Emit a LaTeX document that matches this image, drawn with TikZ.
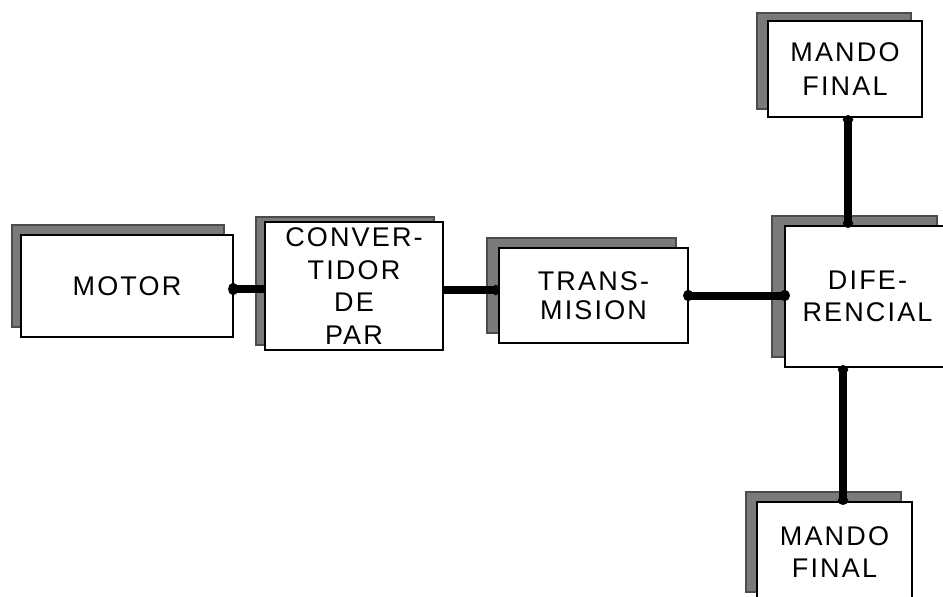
\documentclass[tikz,border=0pt]{standalone}
\usepackage{fontspec}
\setmainfont{Liberation Sans}
\usetikzlibrary{arrows.meta}
\newfontfamily\lblfont[LetterSpace=8]{Liberation Sans}
\tikzset{
  blk/.style={draw=black, line width=2.4pt, fill=white, inner sep=0pt,
    align=center, font=\lblfont\fontsize{27}{32}\selectfont},
  shad/.style 2 args={preaction={draw=black!70, line width=1.2pt, fill=black!52,
    transform canvas={shift={(#1,#2)}}}},
  link/.style={line width=7.5pt, draw=black},
}
\begin{document}
\begin{tikzpicture}[x=1pt,y=-1pt]
\useasboundingbox (0,0) rectangle (943,597);
\clip (0,0) rectangle (943,597);
\node[blk, shad={-9pt}{10pt}, minimum width=212pt, minimum height=102pt] (motor) at (127,286) {MOTOR};
\node[blk, shad={-9pt}{5pt}, minimum width=178pt, minimum height=128pt, font=\lblfont\fontsize{27}{32.5}\selectfont] (conv) at (354,286) {CONVER-\\TIDOR\\DE\\PAR};
\node[blk, shad={-12pt}{10pt}, minimum width=189pt, minimum height=95pt, font=\lblfont\fontsize{27}{29.5}\selectfont] (trans) at (593.5,295.5) {TRANS-\\MISION};
\node[blk, shad={-13pt}{10pt}, minimum width=165pt, minimum height=141pt] (dif) at (867.5,296.5) {DIFE-\\RENCIAL};
\node[blk, shad={-11pt}{8pt}, minimum width=154pt, minimum height=96pt, font=\lblfont\fontsize{27}{34}\selectfont] (mfa) at (845,69) {MANDO\\FINAL};
\node[blk, shad={-11pt}{10pt}, minimum width=155pt, minimum height=100pt] (mfb) at (834.5,552) {MANDO\\FINAL};
% connectors
\draw[link, -{Circle[length=10pt,width=12pt]}, shorten >=-6pt] ([yshift=-3pt]conv.west) -- ([yshift=-3pt]motor.east);
\draw[link, -{Circle[length=8pt,width=10pt]}, shorten >=-2pt] ([yshift=-4pt]conv.east) -- ([yshift=-4pt]conv.east -| trans.west);
\draw[link, line width=8pt, {Circle[length=10pt,width=11pt]}-{Circle[length=10pt,width=11pt]}, shorten <=-6pt, shorten >=-6pt] (trans.east) -- (trans.east -| dif.west);
\draw[link, {Circle[length=9pt,width=10pt]}-{Circle[length=9pt,width=10pt]}, shorten <=-3pt, shorten >=-3pt] ([xshift=3pt]mfa.south) -- ([xshift=3pt]mfa.south |- dif.north);
\draw[link, {Circle[length=9pt,width=10pt]}-{Circle[length=9pt,width=10pt]}, shorten <=-3pt, shorten >=-4pt] ([xshift=8.5pt]mfb.north |- dif.south) -- ([xshift=8.5pt]mfb.north);
\end{tikzpicture}
\end{document}
